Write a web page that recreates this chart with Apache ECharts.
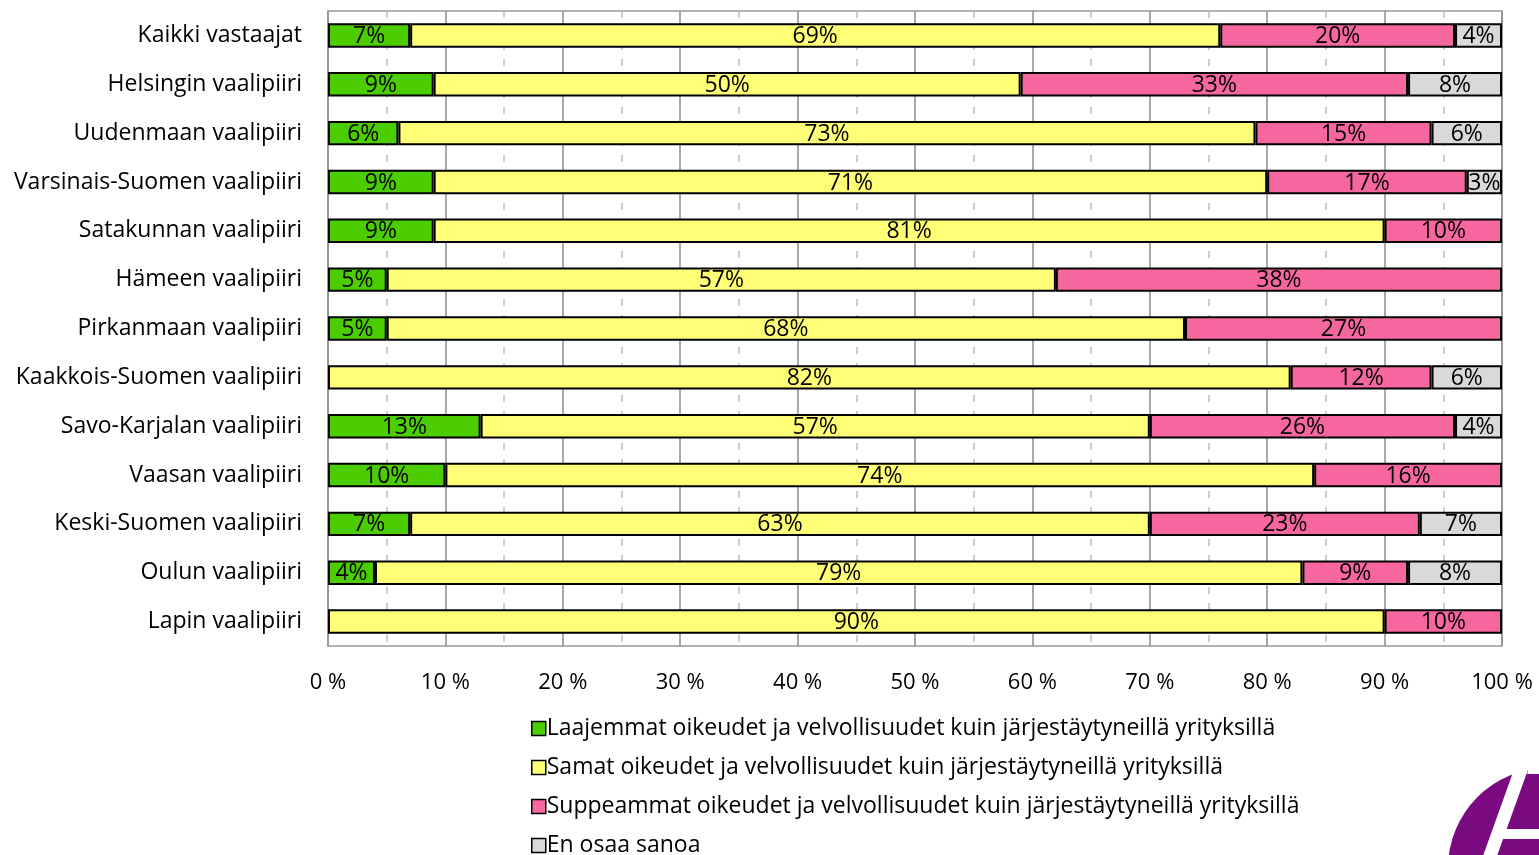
<!DOCTYPE html>
<html><head><meta charset="utf-8">
<script src="https://cdn.jsdelivr.net/npm/echarts@6/dist/echarts.min.js"></script>
<style>html,body{margin:0;padding:0;background:#fff}#c{width:1539px;height:855px}</style>
</head><body><div id="c"></div>
<script>
const categories = ["Kaikki vastaajat","Helsingin vaalipiiri","Uudenmaan vaalipiiri","Varsinais-Suomen vaalipiiri","Satakunnan vaalipiiri","Hämeen vaalipiiri","Pirkanmaan vaalipiiri","Kaakkois-Suomen vaalipiiri","Savo-Karjalan vaalipiiri","Vaasan vaalipiiri","Keski-Suomen vaalipiiri","Oulun vaalipiiri","Lapin vaalipiiri"];
const seriesNames = ["Laajemmat oikeudet ja velvollisuudet kuin järjestäytyneillä yrityksillä","Samat oikeudet ja velvollisuudet kuin järjestäytyneillä yrityksillä","Suppeammat oikeudet ja velvollisuudet kuin järjestäytyneillä yrityksillä","En osaa sanoa"];
const laajemmat = [7,9,6,9,9,5,5,null,13,10,7,4,null];
const samat     = [69,50,73,71,81,57,68,82,57,74,63,79,90];
const suppeammat= [20,33,15,17,10,38,27,12,26,16,23,9,10];
const eos       = [4,8,6,3,null,null,null,6,4,null,7,8,null];
const xTicks = [0,10,20,30,40,50,60,70,80,90,100];
const colors = ["#4ccd00","#ffff77","#f7679f","#d9d9d9"];
const FONT = "Open Sans";
const FS = 23;
const chart = echarts.init(document.getElementById('c'));
const values = [laajemmat, samat, suppeammat, eos];
chart.setOption({
  animation:false,
  textStyle:{fontFamily:FONT},
  grid:{left:328,right:37,top:11,height:635,show:true,borderColor:'#999',borderWidth:1.5},
  legend:{orient:'vertical',left:526,top:712,height:200,itemGap:16,itemWidth:14,itemHeight:14,icon:'rect',
    textStyle:{fontFamily:FONT,fontSize:FS,color:'#000',padding:[0,0,0,-4]},
    itemStyle:{borderColor:'#000',borderWidth:1.5},
    data:seriesNames},
  xAxis:{type:'value',min:0,max:100,interval:10,
    axisLine:{show:false},axisTick:{show:false},
    axisLabel:{formatter:v=>v+' %',fontSize:FS-1,color:'#000',margin:26,fontFamily:FONT},
    splitLine:{show:true,lineStyle:{color:'#8c8c8c',width:1.5}},
    minorTick:{show:false,splitNumber:2},
    minorSplitLine:{show:true,lineStyle:{color:'#bfbfbf',width:1.5,type:[7,9]}}},
  yAxis:{type:'category',inverse:true,data:categories,
    axisLine:{show:true,lineStyle:{color:'#999',width:1.5}},axisTick:{show:false},
    axisLabel:{fontSize:FS,color:'#000',margin:26,fontFamily:FONT}},
  series: values.map((d,i)=>({
    name:seriesNames[i],type:'bar',stack:'s',barWidth:'50%',data:d,
    itemStyle:{color:colors[i],borderColor:'#000',borderWidth:2},
    label:{show:true,position:'inside',distance:0,offset:[0,1],formatter:p=>p.value?p.value+'%':'',fontSize:FS,color:'#000',fontFamily:FONT}
  })),
  graphic:[
    {type:'circle',shape:{cx:1548,cy:868,r:100},style:{fill:'#7a0a80'},z:10},
    {type:'polygon',shape:{points:[[1516,764],[1530,764],[1497,856],[1483,856]]},style:{fill:'#fff'},z:11},
    {type:'rect',shape:{x:1503,y:829,width:40,height:10},style:{fill:'#fff'},z:11},
    {type:'polygon',shape:{points:[[1530,764],[1545,764],[1545,774],[1527,774]]},style:{fill:'#fff'},z:11}
  ]
});
</script></body></html>
